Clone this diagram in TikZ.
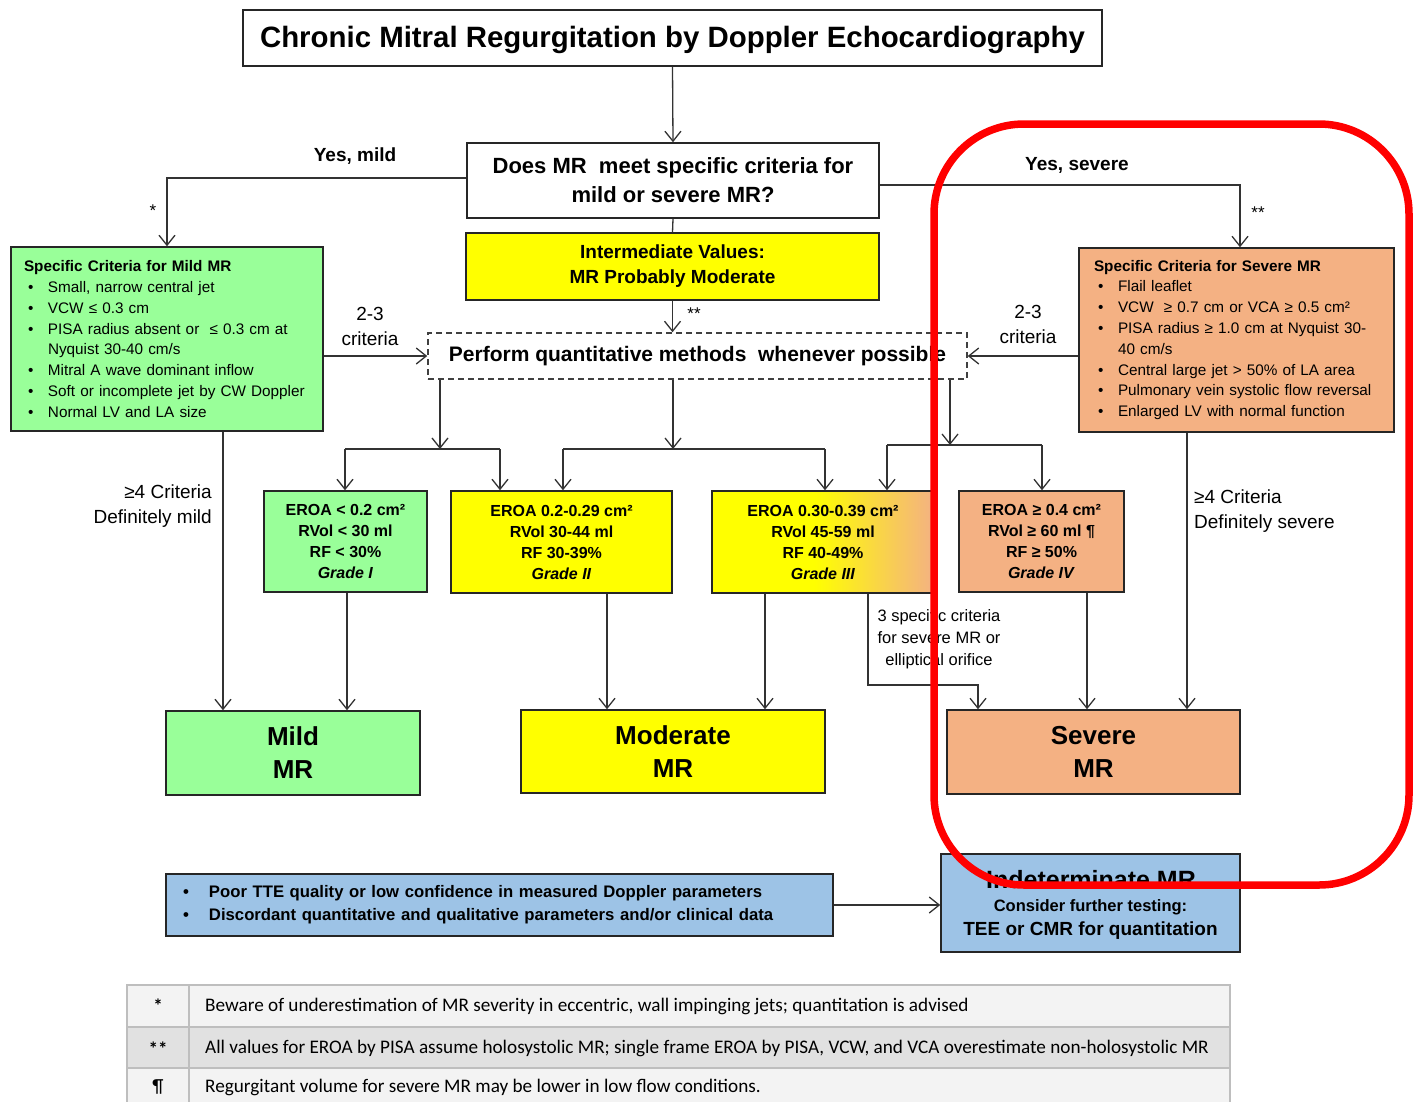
\documentclass[tikz,border=0pt]{standalone}
\usepackage{fontspec}
\setmainfont{Liberation Sans}
\newfontfamily\tablefont{Carlito}
\usetikzlibrary{arrows.meta}
\definecolor{mgreen}{HTML}{99FF99}
\definecolor{myellow}{HTML}{FFFF00}
\definecolor{mpeach}{HTML}{F4B183}
\definecolor{mblue}{HTML}{9DC3E6}
\definecolor{tbord}{HTML}{BEBEBE}
\definecolor{trowa}{HTML}{F3F3F3}
\definecolor{trowb}{HTML}{E1E1E1}
\definecolor{linec}{HTML}{333333}
\pgfdeclarehorizontalshading{yoshade}{100bp}{color(0bp)=(myellow); color(25bp)=(myellow); color(48bp)=(myellow); color(75bp)=(mpeach); color(100bp)=(mpeach)}
\newcommand\mybul{\makebox[20pt][l]{\textbullet}}
\newcommand\myind{\hspace*{20pt}}
\begin{document}
\begin{tikzpicture}[x=1pt,y=-1pt,
  box/.style={draw=black!85, line width=1.5pt, rectangle, inner sep=2pt, align=center},
  ln/.style={draw=linec, line width=1.3pt},
  arr/.style={draw=linec, line width=1.3pt, -{Straight Barb[length=10pt,width=16pt]}},
  lbl/.style={inner sep=0pt, align=center}]
\useasboundingbox (0,0) rectangle (1421,1101);
\fill[white] (0,0) rectangle (1421,1101);

% main boxes
\node[box, minimum width=859pt, minimum height=56pt, text depth=2pt, font=\fontsize{29.4}{32}\selectfont\bfseries] (title) at (672.5,38) {Chronic Mitral Regurgitation by Doppler Echocardiography};
\node[box, minimum width=412pt, minimum height=75pt, font=\fontsize{22}{29}\selectfont\bfseries] (dec) at (673,180.5) {Does MR\ \ meet specific criteria for\\mild or severe MR?};
\node[box, fill=myellow, minimum width=413pt, minimum height=67pt, font=\fontsize{19}{25}\selectfont\bfseries] (inter) at (672.5,266.5) {Intermediate Values:\\MR Probably Moderate};
\node[box, draw=black!75, dash pattern=on 6pt off 4pt, minimum width=539pt, minimum height=46pt, font=\fontsize{21}{24}\selectfont\bfseries] (quant) at (697.5,356) {Perform quantitative methods\ \ whenever possible};

\node[box, fill=mgreen, minimum width=312pt, minimum height=184pt, text width=294pt, align=left, font=\fontsize{15.3}{20.8}\selectfont] (mildc) at (167,339)
 {\hspace*{4pt}\textbf{Specific Criteria for Mild MR}\\
  \hspace*{8pt}\mybul Small, narrow central jet\\
  \hspace*{8pt}\mybul VCW ≤ 0.3 cm\\
  \hspace*{8pt}\mybul PISA radius absent or\ \ ≤ 0.3 cm at\\
  \hspace*{8pt}\myind Nyquist 30-40 cm/s\\
  \hspace*{8pt}\mybul Mitral A wave dominant inflow\\
  \hspace*{8pt}\mybul Soft or incomplete jet by CW Doppler\\
  \hspace*{8pt}\mybul Normal LV and LA size};

\node[box, fill=mpeach, minimum width=315pt, minimum height=184pt, text width=293pt, align=left, font=\fontsize{15.3}{20.8}\selectfont] (sevc) at (1236.5,340)
 {\hspace*{4pt}\textbf{Specific Criteria for Severe MR}\\
  \hspace*{8pt}\mybul Flail leaflet\\
  \hspace*{8pt}\mybul VCW\ \ ≥ 0.7 cm or VCA ≥ 0.5 cm²\\
  \hspace*{8pt}\mybul PISA radius ≥ 1.0 cm at Nyquist 30-\\
  \hspace*{8pt}\myind 40 cm/s\\
  \hspace*{8pt}\mybul Central large jet > 50\% of LA area\\
  \hspace*{8pt}\mybul Pulmonary vein systolic flow reversal\\
  \hspace*{8pt}\mybul Enlarged LV with normal function};

% grade boxes
\node[box, fill=mgreen, minimum width=163pt, minimum height=101pt, font=\fontsize{16}{21}\selectfont\bfseries] (g1) at (345.5,541.5) {EROA < 0.2 cm²\\RVol < 30 ml\\RF < 30\%\\\textit{Grade I}};
\node[box, fill=myellow, minimum width=221pt, minimum height=102pt, font=\fontsize{16}{21}\selectfont\bfseries] (g2) at (561.5,542) {EROA 0.2-0.29 cm²\\RVol 30-44 ml\\RF 30-39\%\\\textit{Grade II}};
\node[box, shading=yoshade, minimum width=222pt, minimum height=102pt, font=\fontsize{16}{21}\selectfont\bfseries] (g3) at (823,542) {EROA 0.30-0.39 cm²\\RVol 45-59 ml\\RF 40-49\%\\\textit{Grade III}};
\node[box, fill=mpeach, minimum width=165pt, minimum height=101pt, font=\fontsize{16}{21}\selectfont\bfseries] (g4) at (1041.5,541.5) {EROA ≥ 0.4 cm²\\RVol ≥ 60 ml ¶\\RF ≥ 50\%\\\textit{Grade IV}};

% result boxes
\node[box, fill=mgreen, minimum width=254pt, minimum height=84pt, font=\fontsize{26}{33}\selectfont\bfseries] (mild) at (293,753) {Mild\\MR};
\node[box, fill=myellow, minimum width=304pt, minimum height=83pt, font=\fontsize{26}{33}\selectfont\bfseries] (mod) at (673,751.5) {Moderate\\MR};
\node[box, fill=mpeach, minimum width=293pt, minimum height=84pt, font=\fontsize{26}{33}\selectfont\bfseries] (sev) at (1093.5,752) {Severe\\MR};

% indeterminate
\node[box, fill=mblue, minimum width=667pt, minimum height=62pt, text width=633pt, align=left, font=\fontsize{16.7}{23}\selectfont\bfseries] (poor) at (499.5,905)
 {\makebox[26pt][l]{\textbullet}Poor TTE quality or low confidence in measured Doppler parameters\\
  \makebox[26pt][l]{\textbullet}Discordant quantitative and qualitative parameters and/or clinical data};
\node[box, fill=mblue, minimum width=299pt, minimum height=98pt] (indet) at (1090.5,903) {};
\node[lbl, font=\fontsize{25}{28}\selectfont\bfseries] (indt1) at (1091,880) {Indeterminate MR};
\node[lbl, font=\fontsize{16.5}{20}\selectfont\bfseries] (indt2) at (1090.5,907) {Consider further testing:};
\node[lbl, font=\fontsize{19}{22}\selectfont\bfseries] (indt3) at (1090.5,931) {TEE or CMR for quantitation};

% helper coordinates
\coordinate (ys) at (0,185);
\coordinate (h1) at (440,449); \coordinate (h1a) at (345,449); \coordinate (h1b) at (500,449);
\coordinate (h2) at (673,449); \coordinate (h2a) at (563,449); \coordinate (h2b) at (825,449);
\coordinate (h3) at (950,445); \coordinate (h3a) at (887,445); \coordinate (h3b) at (1042,445);
\coordinate (xa) at (223,0); \coordinate (xb) at (347,0); \coordinate (xc) at (607,0);
\coordinate (xd) at (765,0); \coordinate (xf) at (1087,0); \coordinate (xg) at (1187,0);
\coordinate (e1) at (868,685); \coordinate (e2) at (978,685);
\coordinate (ysev) at (1240,0);
\coordinate (ym) at (0,178);

% connectors
\draw[arr] (title.south) -- (dec.north);
\draw[ln] (dec.south) -- (inter.north);
\draw[arr] (inter.south) -- (inter.south |- quant.north);
\draw[arr] (dec.west |- ym) -| (mildc.north);
\draw[arr] (dec.east |- ys) -| (ysev |- sevc.north);
\draw[arr] (mildc.east |- quant.west) -- (quant.west);
\draw[arr] (sevc.west |- quant.east) -- (quant.east);

\draw[arr] (quant.south -| h1) -- (h1);
\draw[ln] (h1a) -- (h1b);
\draw[arr] (h1a) -- (h1a |- g1.north);
\draw[arr] (h1b) -- (h1b |- g2.north);
\draw[arr] (quant.south -| h2) -- (h2);
\draw[ln] (h2a) -- (h2b);
\draw[arr] (h2a) -- (h2a |- g2.north);
\draw[arr] (h2b) -- (h2b |- g3.north);
\draw[arr] (quant.south -| h3) -- (h3);
\draw[ln] (h3a) -- (h3b);
\draw[arr] (h3a) -- (h3a |- g3.north);
\draw[arr] (h3b) -- (h3b |- g4.north);

\draw[arr] (mildc.south -| xa) -- (mild.north -| xa);
\draw[arr] (g1.south -| xb) -- (mild.north -| xb);
\draw[arr] (g2.south -| xc) -- (mod.north -| xc);
\draw[arr] (g3.south -| xd) -- (mod.north -| xd);
\draw[arr] (g3.south -| e1) -- (e1) -- (e2) -- (sev.north -| e2);
\draw[arr] (g4.south -| xf) -- (sev.north -| xf);
\draw[arr] (sevc.south -| xg) -- (sev.north -| xg);
\draw[arr] (poor.east) -- (poor.east -| indet.west);

% labels
\node[lbl, font=\fontsize{19}{22}\selectfont\bfseries] (lym) at (355,156) {Yes, mild};
\node[lbl, font=\fontsize{17}{20}\selectfont] (lst1) at (153,211) {*};
\node[lbl, font=\fontsize{19}{22}\selectfont\bfseries] (lys) at (1077,165) {Yes, severe};
\node[lbl, font=\fontsize{17}{20}\selectfont] (lst2) at (1258,213) {**};
\node[lbl, font=\fontsize{17}{20}\selectfont] (lst3) at (694,314) {**};
\node[lbl, font=\fontsize{19}{25}\selectfont] (lc1) at (370,326) {2-3\\criteria};
\node[lbl, font=\fontsize{19}{25}\selectfont] (lc2) at (1028,324) {2-3\\criteria};
\node[lbl, anchor=east, align=right, font=\fontsize{19}{25}\selectfont] (l4m) at (212,506.5) {≥4 Criteria\\Definitely mild};
\node[lbl, anchor=west, align=left, font=\fontsize{19}{25}\selectfont] (l4s) at (1194,511.5) {≥4 Criteria\\Definitely severe};
\node[lbl, fill=white, inner sep=1pt, font=\fontsize{16.5}{22}\selectfont] (l3s) at (939,639) {3 specific criteria\\for severe MR or\\elliptical orifice};

% footnote table
\fill[trowa] (127,985) rectangle (1230,1027);
\fill[trowb] (127,1027) rectangle (1230,1068);
\fill[trowa] (127,1068) rectangle (1230,1104);
\draw[tbord, line width=2pt] (127,1104) -- (127,985) -- (1230,985) -- (1230,1104);
\draw[tbord, line width=2pt] (127,1027) -- (1230,1027);
\draw[tbord, line width=2pt] (127,1068) -- (1230,1068);
\draw[tbord, line width=2pt] (189,985) -- (189,1104);
\node[lbl, font=\tablefont\fontsize{19}{20}\selectfont\bfseries] (fs1) at (158,1006) {*};
\node[lbl, font=\tablefont\fontsize{19}{20}\selectfont\bfseries] (fs2) at (158,1049) {**};
\node[lbl, font=\tablefont\fontsize{19}{20}\selectfont] (fs3) at (158,1087) {¶};
\node[lbl, anchor=west, font=\tablefont\fontsize{19.2}{20}\selectfont] (ft1) at (205,1006) {Beware of underestimation of MR severity in eccentric, wall impinging jets; quantitation is advised};
\node[lbl, anchor=west, font=\tablefont\fontsize{19.2}{20}\selectfont] (ft2) at (205,1048) {All values for EROA by PISA assume holosystolic MR; single frame EROA by PISA, VCW, and VCA overestimate non-holosystolic MR};
\node[lbl, anchor=west, font=\tablefont\fontsize{19.2}{20}\selectfont] (ft3) at (205,1087) {Regurgitant volume for severe MR may be lower in low flow conditions.};

% red highlight frame
\draw[draw=red, line width=7.5pt, rounded corners=90pt] (934,124) rectangle (1409,885);
\end{tikzpicture}
\end{document}
